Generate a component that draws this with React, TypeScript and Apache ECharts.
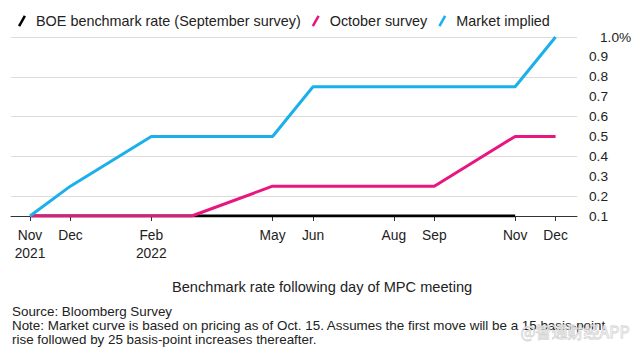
import React, { useEffect, useRef } from "react";
import * as echarts from "echarts";

// MPC meeting months
const meetings = ["2021-11", "2021-12", "2022-02", "2022-03", "2022-05", "2022-06", "2022-08", "2022-09", "2022-11", "2022-12"];
const boeSeptember = [0.1, 0.1, 0.1, 0.1, 0.1, 0.1, 0.1, 0.1, 0.1, null];
const octoberSurvey = [0.1, 0.1, 0.1, 0.1, 0.25, 0.25, 0.25, 0.25, 0.5, 0.5];
const marketImplied = [0.1, 0.25, 0.5, 0.5, 0.5, 0.75, 0.75, 0.75, 0.75, 1.0];

const tickMonths = ["2021-11", "2021-12", "2022-02", "2022-05", "2022-06", "2022-08", "2022-09", "2022-11", "2022-12"];
const tickLabels = ["Nov\n2021", "Dec", "Feb\n2022", "May", "Jun", "Aug", "Sep", "Nov", "Dec"];
const yTicks = [0.1, 0.2, 0.3, 0.4, 0.5, 0.6, 0.7, 0.8, 0.9, 1.0];

const FONT = "'Liberation Sans', Arial, Helvetica, sans-serif";

function monthIndex(s: string): number {
  const [y, m] = s.split("-").map(Number);
  return (y - 2021) * 12 + (m - 11);
}

const tickIdx = tickMonths.map(monthIndex);

function pairs(vals: (number | null)[]) {
  return meetings.map((m, i) => [monthIndex(m), vals[i]]);
}

export default function App() {
  const ref = useRef<HTMLDivElement>(null);
  useEffect(() => {
    if (!ref.current) return;
    const chart = echarts.init(ref.current, null, { renderer: "svg" });
    const slash = "path://M6.5,0 L9,1.5 L2.5,13 L0,11.5 Z";
    chart.setOption({
      animation: false,
      textStyle: { fontFamily: FONT },
      legend: {
        left: 13,
        top: 9,
        itemWidth: 8,
        itemHeight: 13,
        itemGap: 11,
        icon: slash,
        textStyle: { fontSize: 14.4, color: "#222", fontFamily: FONT, padding: [0, 0, 0, 5] },
        data: ["BOE benchmark rate (September survey)", "October survey", "Market implied"],
      },
      grid: { left: 11, right: 60, top: 37, bottom: 136 },
      xAxis: {
        type: "value",
        min: -0.47,
        max: 13.53,
        splitLine: { show: false },
        axisLine: { lineStyle: { color: "#333", width: 1 } },
        axisTick: { customValues: tickIdx, length: 5, lineStyle: { color: "#333" } },
        axisLabel: {
          customValues: tickIdx,
          fontSize: 13.8,
          color: "#222",
          lineHeight: 17.5,
          margin: 11,
          formatter: (v: number) => {
            const i = tickIdx.findIndex((t) => Math.abs(t - v) < 1e-6);
            return i >= 0 ? tickLabels[i] : "";
          },
        },
      },
      yAxis: {
        type: "value",
        position: "right",
        min: 0.1,
        max: 1.0,
        axisLine: { show: false },
        axisTick: { show: false },
        splitLine: { lineStyle: { color: "#dcdcdc", width: 1 } },
        axisLabel: {
          customValues: yTicks,
          margin: 12,
          fontSize: 13.7,
          color: "#222",
          formatter: (v: number) => (Math.abs(v - 1) < 1e-6 ? "{top|1.0%}" : v.toFixed(1)),
          rich: { top: { fontSize: 13.7, color: "#222", padding: [0, 0, 0, 11], fontFamily: FONT } },
        },
      },
      series: [
        {
          name: "BOE benchmark rate (September survey)",
          type: "line",
          data: pairs(boeSeptember),
          symbol: "none",
          itemStyle: { color: "#000" },
          lineStyle: { color: "#000", width: 3 },
          z: 2,
        },
        {
          name: "October survey",
          type: "line",
          data: pairs(octoberSurvey),
          symbol: "none",
          itemStyle: { color: "#e8177f" },
          lineStyle: { color: "#e8177f", width: 3 },
          z: 3,
        },
        {
          name: "Market implied",
          type: "line",
          data: pairs(marketImplied),
          symbol: "none",
          itemStyle: { color: "#1bb0ea" },
          lineStyle: { color: "#1bb0ea", width: 3 },
          z: 4,
        },
      ],
      graphic: [
        {
          type: "text",
          left: 172,
          top: 279,
          style: { text: "Benchmark rate following day of MPC meeting", fontSize: 14.6, fill: "#222", fontFamily: FONT },
        },
        {
          type: "text",
          left: 12,
          top: 305,
          style: {
            text:
              "Source: Bloomberg Survey\nNote: Market curve is based on pricing as of Oct. 15. Assumes the first move will be a 15 basis-point\nrise followed by 25 basis-point increases thereafter.",
            fontSize: 13.4,
            lineHeight: 13.7,
            fill: "#222",
            fontFamily: FONT,
          },
        },
        {
          type: "text",
          left: 520,
          top: 323,
          z: 10,
          style: {
            text: "@智通财经APP",
            fontSize: 16,
            fill: "rgba(255,255,255,0.3)",
            stroke: "#cfcfcf",
            lineWidth: 0.8,
            fontFamily: "'Noto Sans CJK SC', sans-serif",
          },
        },
      ],
    });
    return () => chart.dispose();
  }, []);
  return <div ref={ref} style={{ position: "fixed", left: 0, top: 0, width: 637, height: 352, background: "#fff" }} />;
}
